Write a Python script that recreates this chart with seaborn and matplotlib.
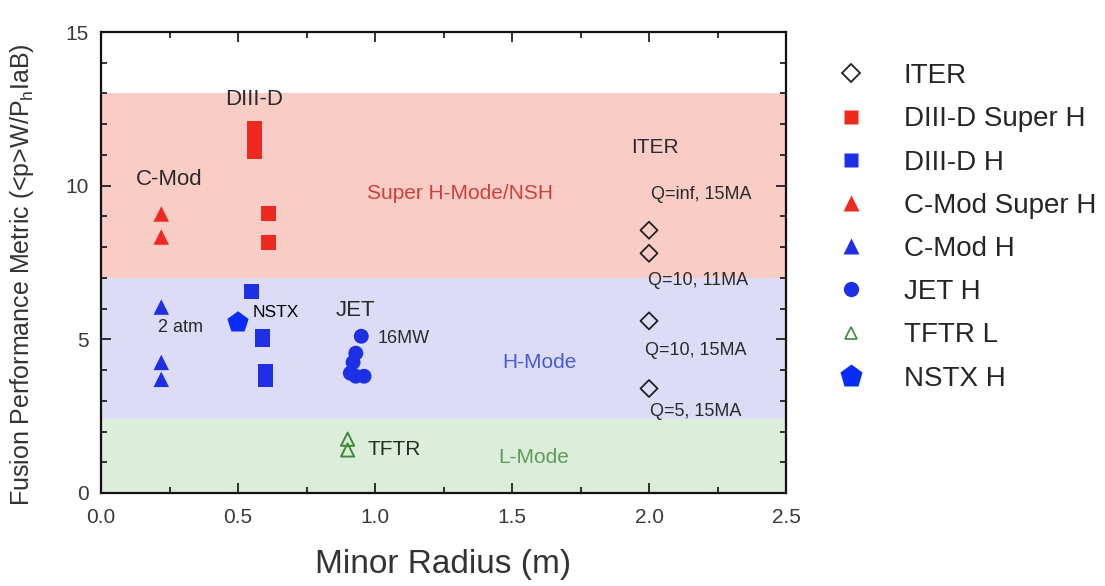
import matplotlib
matplotlib.use("Agg")
import matplotlib.pyplot as plt
import seaborn as sns
import pandas as pd
from matplotlib.lines import Line2D

sns.set_theme(style="white")
plt.rcParams['font.family'] = ['Liberation Sans', 'DejaVu Sans']

# ---- data ----
iter_x = [2.0, 2.0, 2.0, 2.0]
iter_y = [8.55, 7.8, 5.6, 3.4]
d3d_sh_x = [0.56, 0.56, 0.56, 0.56, 0.61, 0.61]
d3d_sh_y = [11.85, 11.6, 11.35, 11.1, 9.1, 8.15]
d3d_h_x = [0.55, 0.59, 0.59, 0.60, 0.60]
d3d_h_y = [6.55, 5.1, 5.0, 3.95, 3.7]
cmod_sh_x = [0.22, 0.22]
cmod_sh_y = [9.08, 8.33]
cmod_h_x = [0.22, 0.22, 0.22]
cmod_h_y = [6.05, 4.25, 3.7]
jet_x = [0.95, 0.93, 0.92, 0.91, 0.93, 0.96]
jet_y = [5.1, 4.55, 4.25, 3.9, 3.8, 3.8]
tftr_x = [0.90, 0.90]
tftr_y = [1.75, 1.4]
nstx_x = [0.50]
nstx_y = [5.55]

band_l = (0, 2.4)
band_h = (2.4, 7.0)
band_sh = (7.0, 13.0)

fig = plt.figure(figsize=(11.05, 5.86), dpi=100)
ax = fig.add_axes([101/1105, 93/586, 685/1105, 461/586])

ax.axhspan(*band_l, color="#DCEDD9", lw=0, zorder=0)
ax.axhspan(*band_h, color="#DCDCF7", lw=0, zorder=0)
ax.axhspan(*band_sh, color="#F9CCC6", lw=0, zorder=0)

RED = "#EE2A1E"
BLUE = "#1E30E6"
NBLUE = "#0A2CF8"
GREEN = "#3C8A3C"

series = [
    ("ITER", iter_x, iter_y, dict(marker="D", s=75, facecolor="none", edgecolor="#222222", linewidth=1.3)),
    ("DIII-D Super H", d3d_sh_x, d3d_sh_y, dict(marker="s", s=115, color=RED, edgecolor="none")),
    ("DIII-D H", d3d_h_x, d3d_h_y, dict(marker="s", s=115, color=BLUE, edgecolor="none")),
    ("C-Mod Super H", cmod_sh_x, cmod_sh_y, dict(marker="^", s=125, color=RED, edgecolor="none")),
    ("C-Mod H", cmod_h_x, cmod_h_y, dict(marker="^", s=125, color=BLUE, edgecolor="none")),
    ("JET H", jet_x, jet_y, dict(marker="o", s=115, color=BLUE, edgecolor="none")),
    ("TFTR L", tftr_x, tftr_y, dict(marker="^", s=90, facecolor="none", edgecolor=GREEN, linewidth=1.4)),
    ("NSTX H", nstx_x, nstx_y, dict(marker="p", s=260, color=NBLUE, edgecolor="none")),
]
for name, xs, ys, kw in series:
    df = pd.DataFrame({"x": xs, "y": ys})
    sns.scatterplot(data=df, x="x", y="y", ax=ax, legend=False, zorder=3, **kw)

ax.set_xlim(0, 2.5)
ax.set_ylim(0, 15)
ax.set_xticks([0, 0.5, 1.0, 1.5, 2.0, 2.5])
ax.set_xticklabels(["0.0", "0.5", "1.0", "1.5", "2.0", "2.5"])
ax.set_yticks([0, 5, 10, 15])
ax.set_xticks([0.25, 0.75, 1.25, 1.75, 2.25], minor=True)
ax.set_yticks([y for y in range(16) if y % 5], minor=True)
ax.tick_params(which="both", direction="in", top=True, right=True, bottom=True, left=True,
               color="#111111", width=1.2)
ax.tick_params(which="major", length=7, labelsize=15, labelcolor="#3A3A3A")
ax.tick_params(axis="x", which="major", pad=11)
ax.tick_params(axis="y", which="major", pad=9)
ax.tick_params(which="minor", length=4)
for sp in ax.spines.values():
    sp.set_color("#111111")
    sp.set_linewidth(1.6)

ax.set_xlabel("Minor Radius (m)", fontsize=24, color="#333333", labelpad=16)
ax.set_ylabel("Fusion Performance Metric (<p>W/P$_\\mathregular{h}$IaB)", fontsize=18,
              color="#333333")
ax.yaxis.set_label_coords(-0.095, 0.473)

dark = "#2A2A2A"
def t(x, y, s, size=15, color=dark, ha="center"):
    ax.text(x, y, s, fontsize=size, color=color, ha=ha, va="center", zorder=4)

t(0.25, 10.2, "C-Mod", 16)
t(0.56, 12.8, "DIII-D", 16)
t(1.31, 9.76, "Super H-Mode/NSH", 15, "#D0403A")
t(2.02, 11.23, "ITER", 15)
t(2.19, 9.7, "Q=inf, 15MA", 13)
t(2.18, 6.93, "Q=10, 11MA", 13)
t(2.17, 4.65, "Q=10, 15MA", 13)
t(2.17, 2.64, "Q=5, 15MA", 13)
t(0.93, 5.95, "JET", 16)
t(1.01, 5.04, "16MW", 13, ha="left")
t(0.29, 5.37, "2 atm", 13)
t(0.555, 5.87, "NSTX", 12.5, "black", ha="left")
t(1.6, 4.23, "H-Mode", 15, "#4A5AD6")
t(1.07, 1.4, "TFTR", 15)
t(1.58, 1.17, "L-Mode", 15, "#5E9C5E")

# legend
handles = [
    Line2D([], [], ls="none", marker="D", ms=9, mfc="none", mec="#222222", mew=1.3),
    Line2D([], [], ls="none", marker="s", ms=10, color=RED, mec="none"),
    Line2D([], [], ls="none", marker="s", ms=10, color=BLUE, mec="none"),
    Line2D([], [], ls="none", marker="^", ms=11, color=RED, mec="none"),
    Line2D([], [], ls="none", marker="^", ms=11, color=BLUE, mec="none"),
    Line2D([], [], ls="none", marker="o", ms=11, color=BLUE, mec="none"),
    Line2D([], [], ls="none", marker="^", ms=9, mfc="none", mec=GREEN, mew=1.2),
    Line2D([], [], ls="none", marker="p", ms=17, color=NBLUE, mec="none"),
]
labels = [s[0] for s in series]
fig.legend(handles, labels, loc="upper left", bbox_to_anchor=(0.7225, 0.935),
           frameon=False, labelspacing=0.62, handletextpad=0.9,
           prop={"family": ["Liberation Sans", "DejaVu Sans"], "size": 20})

fig.savefig("out.png", dpi=100)
